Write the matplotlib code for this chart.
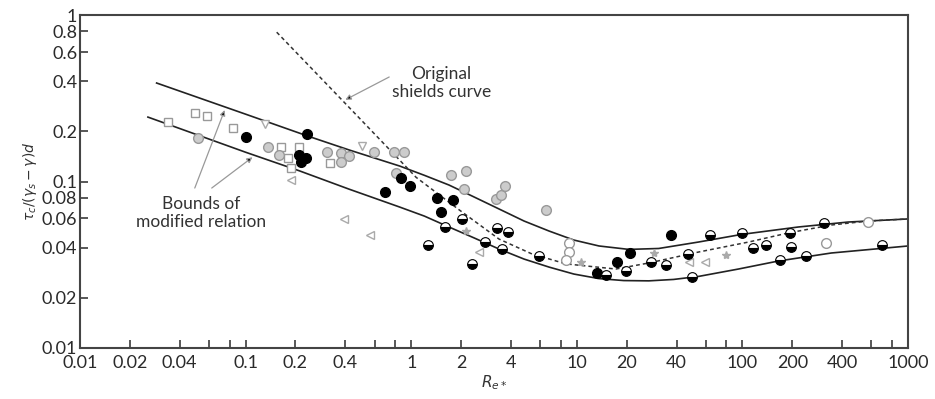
import matplotlib
matplotlib.use("Agg")
import matplotlib.pyplot as plt

plt.rcParams['font.family'] = ['Lato', 'DejaVu Sans']

# curves (R_e*, tau)
upper_x = [0.029, 0.1, 0.236, 0.42, 0.85, 1.20, 1.69, 2.40, 3.39, 4.80, 6.8, 9.59, 13.6, 20.6, 31.2, 54.3, 98.6, 217, 435, 1000]
upper_y = [0.391, 0.254, 0.188, 0.155, 0.124, 0.109, 0.0953, 0.0807, 0.0684, 0.0579, 0.0504, 0.0445, 0.0410, 0.0391, 0.0396, 0.0433, 0.0481, 0.0533, 0.0571, 0.0596]
lower_x = [0.0257, 0.1, 0.211, 0.42, 0.85, 1.20, 1.69, 2.40, 3.39, 4.80, 6.8, 9.59, 13.6, 19.2, 27.2, 38.4, 54.3, 94.6, 165, 344, 1000]
lower_y = [0.244, 0.150, 0.116, 0.0901, 0.0703, 0.0620, 0.0533, 0.0458, 0.0393, 0.0342, 0.0306, 0.0278, 0.0261, 0.0254, 0.0253, 0.0258, 0.0269, 0.0298, 0.0333, 0.0372, 0.0410]
shields_x = [0.154, 0.42, 1.07, 1.95, 3.39, 5.36, 8.6, 17.2, 27.2, 54.3, 109, 189, 344, 574, 1000]
shields_y = [0.79, 0.280, 0.106, 0.0675, 0.0451, 0.0367, 0.0320, 0.0298, 0.0324, 0.0377, 0.0433, 0.0491, 0.0548, 0.0579, 0.0596]

# data points
sq_x = [0.0339, 0.0493, 0.0582, 0.0836, 0.163, 0.211, 0.179, 0.189, 0.321]
sq_y = [0.228, 0.258, 0.247, 0.210, 0.161, 0.161, 0.138, 0.120, 0.129]
gc_x = [0.0514, 0.136, 0.160, 0.308, 0.379, 0.423, 0.379, 0.598, 0.790, 0.908, 0.813, 1.74, 2.14, 2.08, 3.25, 3.48, 3.68, 6.5]
gc_y = [0.183, 0.161, 0.144, 0.150, 0.148, 0.142, 0.131, 0.150, 0.150, 0.150, 0.112, 0.109, 0.116, 0.090, 0.0785, 0.083, 0.094, 0.0675]
tri_x = [0.395, 0.566, 0.189, 2.57, 47.3, 59]
tri_y = [0.0596, 0.0477, 0.102, 0.0377, 0.0329, 0.0329]
dtri_x = [0.130, 0.507]
dtri_y = [0.222, 0.163]
blk_x = [0.1, 0.236, 0.211, 0.230, 0.217, 0.697, 0.871, 0.986, 1.44, 1.79, 1.52, 36.8, 20.8, 17.4, 13.2]
blk_y = [0.185, 0.193, 0.144, 0.138, 0.131, 0.0865, 0.105, 0.094, 0.0796, 0.0774, 0.0656, 0.0477, 0.0372, 0.0329, 0.0282]
half_x = [2.03, 1.60, 1.26, 3.30, 3.84, 2.79, 3.53, 2.33, 5.9, 15, 19.7, 27.9, 34.4, 46.7, 49.3, 64.1, 100, 116, 138, 195, 197, 169, 243, 312, 697]
half_y = [0.0596, 0.0533, 0.0416, 0.0526, 0.0497, 0.0433, 0.0393, 0.032, 0.0357, 0.0274, 0.029, 0.0329, 0.0315, 0.0367, 0.0267, 0.0477, 0.0491, 0.040, 0.0416, 0.0491, 0.0404, 0.0338, 0.0357, 0.0563, 0.0416]
open_x = [8.95, 8.95, 8.6, 321, 574]
open_y = [0.0427, 0.0377, 0.0338, 0.0427, 0.0571]
star_x = [79, 10.6, 29.1, 2.14]
star_y = [0.0362, 0.0329, 0.0372, 0.0504]

xticks = [0.01, 0.02, 0.04, 0.06, 0.08, 0.1, 0.2, 0.4, 0.6, 0.8, 1, 2, 4, 6, 8, 10, 20, 40, 60, 80, 100, 200, 400, 600, 800, 1000]
xlabels = ['0.01', '0.02', '0.04', '', '', '0.1', '0.2', '0.4', '', '', '1', '2', '4', '', '', '10', '20', '40', '', '', '100', '200', '400', '', '', '1000']
yticks = [0.01, 0.02, 0.04, 0.06, 0.08, 0.1, 0.2, 0.4, 0.6, 0.8, 1]
ylabels = ['0.01', '0.02', '0.04', '0.06', '0.08', '0.1', '0.2', '0.4', '0.6', '0.8', '1']

fig = plt.figure(figsize=(9.35, 3.99), dpi=100)
ax = fig.add_axes([0.0856, 0.128, 0.8856, 0.834])
ax.set_xscale('log')
ax.set_yscale('log')
ax.set_xlim(0.01, 1000)
ax.set_ylim(0.01, 1)

ax.plot(upper_x, upper_y, color='#222222', lw=1.2)
ax.plot(lower_x, lower_y, color='#222222', lw=1.2)
ax.plot(shields_x, shields_y, color='#333333', lw=1.1, ls=(0, (2.5, 2)))

ax.plot(sq_x, sq_y, 's', ms=6, mfc='white', mec='#999999', mew=1)
ax.plot(gc_x, gc_y, 'o', ms=7, mfc='#cccccc', mec='#999999', mew=1)
ax.plot(tri_x, tri_y, '<', ms=6, mfc='white', mec='#aaaaaa', mew=1)
ax.plot(dtri_x, dtri_y, 'v', ms=6, mfc='white', mec='#aaaaaa', mew=1)
ax.plot(blk_x, blk_y, 'o', ms=7, color='black')
ax.plot(half_x, half_y, 'o', ms=7, fillstyle='bottom', mfc='black', mfcalt='white', mec='black', mew=0.8)
ax.plot(open_x, open_y, 'o', ms=7, mfc='white', mec='#999999', mew=1)
ax.plot(star_x, star_y, '*', ms=6, color='#aaaaaa')

arrow = dict(arrowstyle='-|>', color='#999999', fc='black', ec='#999999', lw=0.9, mutation_scale=8, shrinkA=0, shrinkB=0)
ax.text(1.52, 0.39, 'Original\nshields curve', ha='center', va='center', fontsize=12.5,
        color='#333333', linespacing=1.15)
ax.annotate('', xy=(0.40, 0.31), xytext=(0.736, 0.425), arrowprops=arrow)
ax.text(0.0536, 0.0647, 'Bounds of\nmodified relation', ha='center', va='center', fontsize=12.5,
        color='#333333', linespacing=1.2)
ax.annotate('', xy=(0.0747, 0.269), xytext=(0.0493, 0.0914), arrowprops=arrow)
ax.annotate('', xy=(0.110, 0.140), xytext=(0.0624, 0.0914), arrowprops=arrow)

ax.set_xticks(xticks)
ax.set_xticklabels(xlabels)
ax.set_yticks(yticks)
ax.set_yticklabels(ylabels)
ax.minorticks_off()
ax.tick_params(direction='in', length=6, width=1.1, labelsize=13, colors='#2a2a2a')
ax.tick_params(axis='x', pad=5)
ax.tick_params(axis='y', pad=2)
for s in ax.spines.values():
    s.set_linewidth(1.5)
    s.set_color('#444444')

ax.set_xlabel(r'$R_{e*}$', fontsize=11, color='#333333', labelpad=2)
ax.set_ylabel(r'$\tau_c/(\gamma_s-\gamma)d$', fontsize=10, color='#333333', labelpad=2)

plt.savefig('out.png', dpi=100)
plt.close()
